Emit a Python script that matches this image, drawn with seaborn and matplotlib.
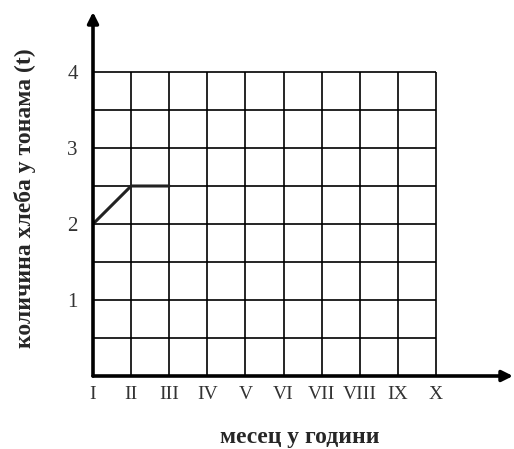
import numpy as np
import pandas as pd
import matplotlib
matplotlib.use("Agg")
import matplotlib.pyplot as plt
import seaborn as sns

# ---- data ----
months = ["I", "II", "III", "IV", "V", "VI", "VII", "VIII", "IX", "X"]
data_months = ["I", "II", "III"]
bread_tons = [2.0, 2.5, 2.5]
y_tick_values = [1, 2, 3, 4]
y_grid_max = 4
y_grid_step = 0.5

sns.set_style("white")
plt.rcParams["font.family"] = ["Liberation Serif", "DejaVu Serif"]

W, H = 514, 449
fig = plt.figure(figsize=(W / 100, H / 100), dpi=100)

x0, y0 = 93, 376          # pixel of data origin (from top-left)
dx, dy = 38.1, 76.0       # pixels per unit
x_end, y_end = 513, 12    # arrow tips
ax = fig.add_axes([x0 / W, (H - y0) / H, (x_end - x0) / W, (y0 - y_end) / H])
ax.set_xlim(0, (x_end - x0) / dx)
ax.set_ylim(0, (y0 - y_end) / dy)

n = len(months)
ygrid = np.arange(0, y_grid_max + 1e-9, y_grid_step)
ax.hlines(ygrid, 0, n - 1, color="black", lw=1.2, zorder=1)
ax.vlines(np.arange(n), 0, y_grid_max, color="black", lw=1.2, zorder=1)

df = pd.DataFrame({"idx": [months.index(m) for m in data_months], "t": bread_tons})
sns.lineplot(data=df, x="idx", y="t", ax=ax, color="#222222", lw=2.2, zorder=3)

for s in ax.spines.values():
    s.set_visible(False)

# axes arrows
ax.annotate("", xy=(1.0, 0), xytext=(0, 0), xycoords="axes fraction",
            arrowprops=dict(arrowstyle="-|>", lw=2.6, color="black",
                            mutation_scale=16, shrinkA=0, shrinkB=0), annotation_clip=False)
ax.annotate("", xy=(0, 1.0), xytext=(0, 0), xycoords="axes fraction",
            arrowprops=dict(arrowstyle="-|>", lw=2.6, color="black",
                            mutation_scale=16, shrinkA=0, shrinkB=0), annotation_clip=False)

ax.set_xticks(np.arange(n))
ax.set_xticklabels(months, fontsize=14, color="#333333")
ax.set_yticks(y_tick_values)
ax.set_yticklabels([str(v) for v in y_tick_values], fontsize=15, color="#333333")
ax.tick_params(axis="x", length=0, pad=7)
ax.tick_params(axis="y", length=0, pad=11)
ax.set_xlabel("")
ax.set_ylabel("")

fig.text(300 / W, 1 - 437 / H, "месец у години", ha="center", va="center",
         fontsize=17, fontweight="bold")
fig.text(25 / W, 1 - 198 / H, "количина хлеба у тонама (t)", ha="center", va="center",
         rotation=90, fontsize=17, fontweight="bold")

fig.savefig("out.png", dpi=100, facecolor="white")
